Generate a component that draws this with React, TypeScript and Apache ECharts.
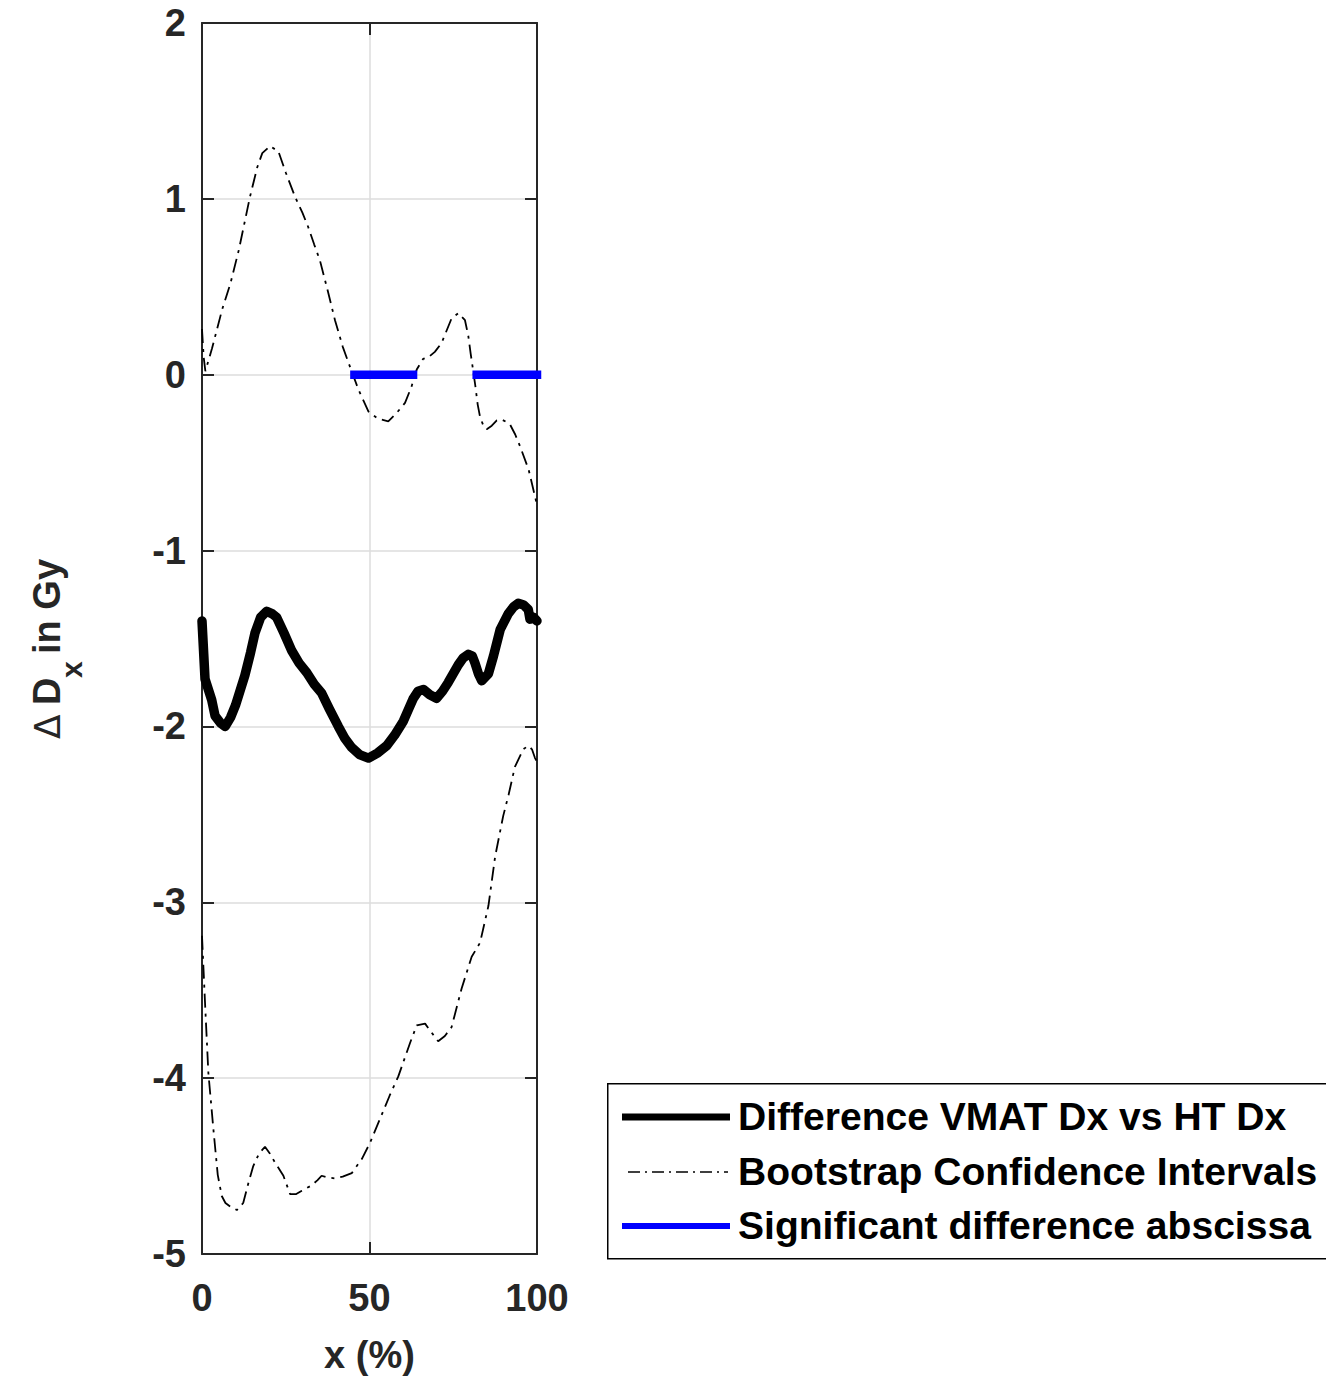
import React, { useEffect, useRef } from "react";
import * as echarts from "echarts";

const xTicks = [0, 50, 100];
const yTicks = [-5, -4, -3, -2, -1, 0, 1, 2];

const meanDiff: [number, number][] = [
  [0, -1.4], [0.9, -1.73], [2.9, -1.85], [3.9, -1.94], [5.5, -1.98], [6.9, -2.0], [8.5, -1.95],
  [10, -1.88], [12.8, -1.71], [14.5, -1.58], [15.8, -1.47], [17.5, -1.38], [19.3, -1.345],
  [21, -1.36], [22.3, -1.38], [24.5, -1.47], [26.8, -1.57], [29, -1.64], [31.3, -1.695],
  [33.5, -1.76], [35.7, -1.81], [38, -1.9], [40.7, -2.0], [42.7, -2.07], [44.7, -2.12],
  [47, -2.16], [49.7, -2.18], [52.5, -2.15], [55.1, -2.11], [57.5, -2.05], [60.1, -1.97],
  [61.7, -1.9], [63.1, -1.84], [64.5, -1.8], [66.1, -1.79], [68, -1.82], [70, -1.84],
  [71.8, -1.8], [73.5, -1.75], [76.5, -1.65], [78, -1.61], [79.5, -1.59], [80.7, -1.6],
  [81.5, -1.64], [82.5, -1.7], [83.5, -1.74], [85.5, -1.7], [87, -1.6], [89, -1.45],
  [91.4, -1.36], [93, -1.32], [94.4, -1.3], [96, -1.31], [97.4, -1.335], [97.9, -1.39],
  [99, -1.38], [100, -1.4],
];

const upperCI: [number, number][] = [
  [0, 0.26], [0.5, 0.1], [1, 0.02], [3, 0.15], [6, 0.37], [8.5, 0.52], [11, 0.71],
  [14.3, 1.01], [16.5, 1.18], [18, 1.26], [20.3, 1.3], [22.8, 1.27], [25, 1.15],
  [27.8, 1.01], [30, 0.92], [31.7, 0.84], [33.5, 0.74], [35.2, 0.65], [37.5, 0.48],
  [39.7, 0.31], [42, 0.16], [43.7, 0.07], [46.7, -0.085], [49.7, -0.21], [52.5, -0.25],
  [55.6, -0.265], [58, -0.22], [60.6, -0.16], [62.5, -0.07], [64.1, 0.03], [66, 0.09],
  [67.6, 0.1], [69.5, 0.13], [71.5, 0.18], [73, 0.25], [74.5, 0.32], [76.5, 0.35],
  [78.5, 0.31], [79.5, 0.22], [80.2, 0.12], [81.5, -0.05], [82.3, -0.17], [83, -0.24],
  [84, -0.29], [85, -0.31], [86.5, -0.29], [88, -0.26], [89.5, -0.255], [91, -0.27],
  [92, -0.285], [93.5, -0.34], [95, -0.41], [97.5, -0.54], [100, -0.74],
];

const lowerCI: [number, number][] = [
  [0, -3.19], [0.9, -3.57], [1.9, -3.97], [3.4, -4.29], [4.7, -4.55], [5.9, -4.67],
  [7, -4.71], [8.4, -4.73], [10.4, -4.75], [12.3, -4.71], [13.8, -4.6], [15.3, -4.5],
  [17, -4.43], [18.8, -4.39], [20.3, -4.43], [21.8, -4.48], [24.3, -4.555], [26.3, -4.66],
  [28, -4.66], [29.8, -4.64], [32.7, -4.61], [34.5, -4.58], [35.7, -4.555], [37.5, -4.565],
  [39.7, -4.57], [42, -4.56], [44.7, -4.54], [47.7, -4.46], [50.1, -4.37], [53.6, -4.21],
  [56, -4.1], [58.6, -3.99], [62.1, -3.8], [64.1, -3.7], [66.6, -3.69], [68.5, -3.74],
  [70.5, -3.79], [72.5, -3.76], [74.5, -3.71], [77.5, -3.49], [80.5, -3.31], [83, -3.23],
  [85.5, -3.02], [87.5, -2.74], [89.9, -2.51], [91.5, -2.39], [93.4, -2.23], [95.9, -2.13],
  [97.4, -2.11], [98.5, -2.13], [99.4, -2.18], [100, -2.2],
];

const significant: ([number, number] | string)[] = [
  [45.5, 0], [63, 0], "-", [82, 0], [100, 0],
];

const legendLabels = [
  "Difference VMAT Dx vs HT Dx",
  "Bootstrap Confidence Intervals",
  "Significant difference abscissa",
];

const FONT = "'Liberation Sans', Arial, Helvetica, sans-serif";
const DASHDOT = [14, 6, 3, 6];

export default function App() {
  const ref = useRef<HTMLDivElement>(null);
  useEffect(() => {
    if (!ref.current) return;
    const chart = echarts.init(ref.current, undefined, { renderer: "svg" });
    const axisLine = { show: true, onZero: false, lineStyle: { color: "#262626", width: 2 } };
    const tick = { show: true, inside: true, length: 12, lineStyle: { color: "#262626", width: 2 } };
    const labelStyle = { fontFamily: FONT, fontWeight: "bold" as const, fontSize: 38, color: "#262626" };
    const legendText = (i: number, y: number) => ({
      type: "text", z: 11, x: 738, y, scaleX: 1.028,
      style: { text: legendLabels[i], font: `bold 38px ${FONT}`, fill: "#000000", textAlign: "left", textVerticalAlign: "middle" },
    });
    const option: any = {
      animation: false,
      backgroundColor: "#ffffff",
      grid: { left: 202, top: 23, width: 335, height: 1232, containLabel: false },
      xAxis: [
        {
          type: "value", min: 0, max: 100, interval: 50, position: "bottom",
          axisLine, axisTick: tick,
          axisLabel: { ...labelStyle, margin: 25, formatter: (v: number) => (xTicks.includes(v) ? String(v) : "") },
          splitLine: { show: true, lineStyle: { color: "#dcdcdc", width: 1.5 } },
          name: "x (%)", nameLocation: "middle", nameGap: 82,
          nameTextStyle: { ...labelStyle, fontSize: 38 },
        },
        {
          type: "value", min: 0, max: 100, interval: 50, position: "top",
          axisLine, axisTick: tick, axisLabel: { show: false }, splitLine: { show: false },
        },
      ],
      yAxis: [
        {
          type: "value", min: -5, max: 2, interval: 1, position: "left",
          axisLine, axisTick: tick,
          axisLabel: { ...labelStyle, margin: 16, formatter: (v: number) => (yTicks.includes(v) ? String(v) : "") },
          splitLine: { show: true, lineStyle: { color: "#dcdcdc", width: 1.5 } },
        },
        {
          type: "value", min: -5, max: 2, interval: 1, position: "right",
          axisLine, axisTick: tick, axisLabel: { show: false }, splitLine: { show: false },
        },
      ],
      series: [
        {
          name: legendLabels[0], type: "line", data: meanDiff, showSymbol: false,
          lineStyle: { color: "#000000", width: 9.5, join: "round", cap: "round" }, z: 3,
        },
        {
          name: legendLabels[1], type: "line", data: upperCI, showSymbol: false,
          lineStyle: { color: "#000000", width: 1.8, type: DASHDOT }, z: 2,
        },
        {
          name: legendLabels[1] + " lower", type: "line", data: lowerCI, showSymbol: false,
          lineStyle: { color: "#000000", width: 1.8, type: DASHDOT }, z: 2,
        },
        {
          name: legendLabels[2], type: "line", data: significant, showSymbol: false,
          connectNulls: false, clip: false,
          lineStyle: { color: "#0000ff", width: 8.5, cap: "square" }, z: 4,
        },
      ],
      graphic: [
        {
          type: "group", x: 47, y: 644, rotation: Math.PI / 2,
          children: [
            { type: "text", x: -95, y: 0, style: { text: "Δ", font: `normal 36px 'DejaVu Sans', ${FONT}`, fill: "#262626", textAlign: "left", textVerticalAlign: "middle" } },
            { type: "text", x: -61, y: 0, style: { text: "D", font: `bold 38px ${FONT}`, fill: "#262626", textAlign: "left", textVerticalAlign: "middle" } },
            { type: "text", x: -34, y: 24, style: { text: "x", font: `bold 30px ${FONT}`, fill: "#262626", textAlign: "left", textVerticalAlign: "middle" } },
            { type: "text", x: -10, y: 0, style: { text: "in Gy", font: `bold 38px ${FONT}`, fill: "#262626", textAlign: "left", textVerticalAlign: "middle" } },
          ],
        },
        {
          type: "rect", left: 607, top: 1083, z: 10,
          shape: { x: 0, y: 0, width: 760, height: 175 },
          style: { fill: "#ffffff", stroke: "#000000", lineWidth: 1.5 },
        },
        { type: "line", z: 11, shape: { x1: 622, y1: 1117, x2: 730, y2: 1117 }, style: { stroke: "#000000", lineWidth: 7 } },
        { type: "line", z: 11, shape: { x1: 628, y1: 1172, x2: 728, y2: 1172 }, style: { stroke: "#000000", lineWidth: 1.6, lineDash: [12, 5, 2, 5] } },
        { type: "line", z: 11, shape: { x1: 622, y1: 1226, x2: 730, y2: 1226 }, style: { stroke: "#0000ff", lineWidth: 6 } },
        legendText(0, 1117),
        legendText(1, 1172),
        legendText(2, 1226),
      ],
    };
    chart.setOption(option);
    return () => chart.dispose();
  }, []);
  return (
    <div
      ref={ref}
      style={{ position: "fixed", left: 0, top: 0, width: 1326, height: 1379, background: "#fff" }}
    />
  );
}
